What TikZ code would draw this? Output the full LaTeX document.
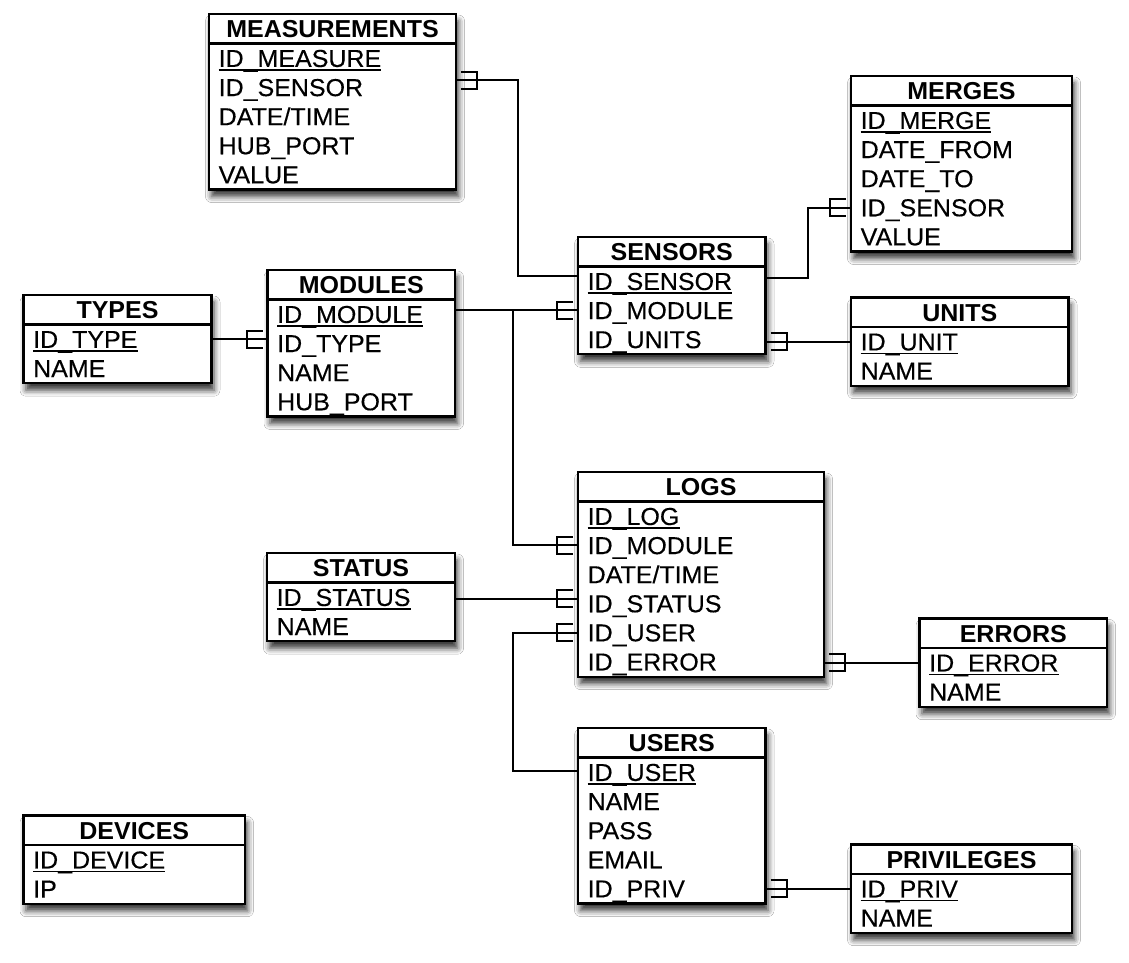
\documentclass[tikz,border=0pt]{standalone}
\usepackage{fontspec}
\setmainfont{Liberation Sans}[FakeStretch=1.02, UprightFeatures={FakeBold=0.35}]
\usetikzlibrary{calc,shadows.blur}
\tikzset{
  tblbox/.style={draw, line width=2.2pt, fill=white, inner sep=0pt, outer sep=0pt, anchor=north west,
    blur shadow={shadow xshift=2.5pt, shadow yshift=-7pt, shadow blur radius=6pt, shadow opacity=80}},
  ttl/.style={font=\fontsize{24.5}{28}\selectfont\bfseries, inner sep=0pt, text height=23.5pt, text depth=5.7pt},
  rowtxt/.style={font=\fontsize{24.5}{28}\selectfont, inner sep=0pt, anchor=west, text height=23.2pt, text depth=5.9pt},
  conn/.style={line width=2pt},
  sepline/.style={line width=2.2pt},
  pkline/.style={line width=1.6pt}
}
\newcommand\ertable[6]{%
  \foreach \r [count=\i] in {#6} {\xdef\nrows{\i}}%
  \pgfmathsetmacro\bh{30+29.1*\nrows}%
  \node[tblbox, minimum width={(#3-#2)*1pt}, minimum height={\bh*1pt}] (#1) at (#2,#4) {};
  \node[ttl] (#1-t) at ($(#1.north)+(0,14.75)$) {#5};
  \draw[sepline] ($(#1.north west)+(0,29.5)$) -- ($(#1.north east)+(0,29.5)$);
  \foreach \r [count=\i] in {#6} {%
    \pgfmathsetmacro\ry{#4+29.5+14.8+29.1*(\i-1)}%
    \node[rowtxt] (#1-\i) at (#2+9.5,\ry) {\r};
  }
  \draw[pkline] ([yshift=-3.2pt]#1-1.base west) -- ([yshift=-3.2pt]#1-1.base east);
}
\newcommand\crowR[1]{\draw[conn] ($(#1)+(5,-8.5)$) -| ($(#1)+(21,8.5)$) -- ($(#1)+(5,8.5)$);}
\newcommand\crowL[1]{\draw[conn] ($(#1)+(-5,-8.5)$) -| ($(#1)+(-21,8.5)$) -- ($(#1)+(-5,8.5)$);}
\begin{document}
\begin{tikzpicture}[x=1pt,y=-1pt]
\fill[white] (0,0) rectangle (1129,963);
\useasboundingbox (0,0) rectangle (1129,963);

\ertable{meas}{209}{456}{14}{MEASUREMENTS}{ID\_MEASURE,ID\_SENSOR,DATE/TIME,HUB\_PORT,VALUE}
\ertable{merg}{851}{1072}{76}{MERGES}{ID\_MERGE,DATE\_FROM,DATE\_TO,ID\_SENSOR,VALUE}
\ertable{sens}{578}{765.5}{237}{SENSORS}{ID\_SENSOR,ID\_MODULE,ID\_UNITS}
\ertable{mod}{267.5}{455}{270}{MODULES}{ID\_MODULE,ID\_TYPE,NAME,HUB\_PORT}
\ertable{types}{23.5}{211.5}{295}{TYPES}{ID\_TYPE,NAME}
\ertable{units}{851}{1068.5}{297.5}{UNITS}{ID\_UNIT,NAME}
\ertable{logs}{578}{824}{472}{LOGS}{ID\_LOG,ID\_MODULE,DATE/TIME,ID\_STATUS,ID\_USER,ID\_ERROR}
\ertable{stat}{267}{455}{553}{STATUS}{ID\_STATUS,NAME}
\ertable{err}{919.5}{1107}{618.5}{ERRORS}{ID\_ERROR,NAME}
\ertable{users}{578}{765.5}{728}{USERS}{ID\_USER,NAME,PASS,EMAIL,ID\_PRIV}
\ertable{dev}{23.5}{245}{815.5}{DEVICES}{ID\_DEVICE,IP}
\ertable{priv}{851}{1072}{844.5}{PRIVILEGES}{ID\_PRIV,NAME}

% MEASUREMENTS - SENSORS
\coordinate (m1) at ($(meas.east |- meas-2)+(0,-7)$);
\coordinate (s1) at ($(sens.west |- sens-1)+(0,-5)$);
\draw[conn] (m1) -| ($(s1)+(-60,0)$) -- (s1);
\crowR{m1}
% MODULES - SENSORS
\coordinate (md1) at (mod.east |- sens-2);
\coordinate (s2) at (sens.west |- sens-2);
\draw[conn] (md1) -- (s2);
\crowL{s2}
% MODULES - LOGS
\coordinate (l1) at (logs.west |- logs-2);
\draw[conn] ($(md1)+(58,0)$) |- (l1);
\crowL{l1}
% TYPES - MODULES
\coordinate (t1) at (types.east |- types-1);
\coordinate (md2) at (mod.west |- types-1);
\draw[conn] (t1) -- (md2);
\crowL{md2}
% SENSORS - MERGES
\coordinate (s3) at ($(sens.east |- sens-1)+(0,-3)$);
\coordinate (mg1) at (merg.west |- merg-4);
\draw[conn] (s3) -| ($(mg1)+(-43,0)$) -- (mg1);
\crowL{mg1}
% SENSORS - UNITS
\coordinate (s4) at (sens.east |- units-1);
\coordinate (u1) at (units.west |- units-1);
\draw[conn] (s4) -- (u1);
\crowR{s4}
% STATUS - LOGS
\coordinate (st1) at ($(stat.east |- stat-1)+(0,1.5)$);
\coordinate (l3) at ($(logs.west |- stat-1)+(0,1.5)$);
\draw[conn] (st1) -- (l3);
\crowL{l3}
% USERS - LOGS
\coordinate (us1) at ($(users.west |- users-1)+(0,-1.5)$);
\coordinate (l4) at (logs.west |- logs-5);
\draw[conn] (us1) -| ($(l4)+(-65,0)$) -- (l4);
\crowL{l4}
% LOGS - ERRORS
\coordinate (l5) at (logs.east |- err-1);
\coordinate (e1) at (err.west |- err-1);
\draw[conn] (l5) -- (e1);
\crowR{l5}
% USERS - PRIVILEGES
\coordinate (us2) at (users.east |- priv-1);
\coordinate (p1) at (priv.west |- priv-1);
\draw[conn] (us2) -- (p1);
\crowR{us2}
\end{tikzpicture}
\end{document}
